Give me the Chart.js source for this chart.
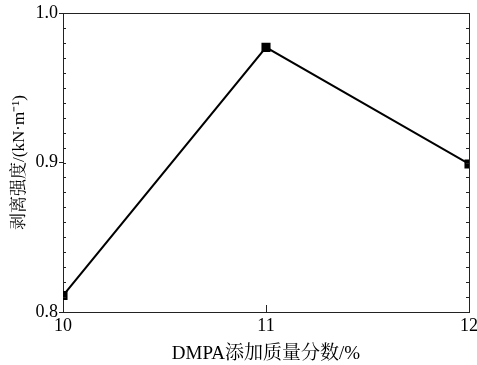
<!DOCTYPE html>
<html><head><meta charset="utf-8">
<script src="https://cdn.jsdelivr.net/npm/chart.js@4/dist/chart.umd.min.js"></script>
<style>html,body{margin:0;padding:0;background:#fff}#wrap{width:477px;height:365px}</style>
</head><body><div id="wrap"><canvas id="c"></canvas></div>
<script>
const categories = [10, 11, 12];
const peelStrength = [0.811, 0.977, 0.899];
const yTicks = [0.8, 0.9, 1.0];
const xTicks = [10, 11, 12];

const FONT = "'Liberation Serif','Noto Serif CJK SC','Noto Sans CJK SC',serif";

const innerTicks = {
  id: 'innerTicks',
  afterDraw(chart) {
    const {ctx, chartArea: a, scales: {x, y}} = chart;
    ctx.save();
    ctx.strokeStyle = '#222';
    ctx.lineWidth = 1;
    ctx.beginPath();
    for (let v = 80; v <= 100; v++) {
      const py = Math.round(y.getPixelForValue(v / 100)) + 0.5;
      ctx.moveTo(a.left, py); ctx.lineTo(a.left + 3, py);
      ctx.moveTo(a.right, py); ctx.lineTo(a.right - 3, py);
    }
    const px = Math.round(x.getPixelForValue(11)) + 0.5;
    ctx.moveTo(px, a.bottom); ctx.lineTo(px, a.bottom - 7);
    ctx.stroke();
    ctx.restore();
  }
};

new Chart(document.getElementById('c'), {
  type: 'line',
  data: {
    datasets: [{
      data: categories.map((c, i) => ({x: c, y: peelStrength[i]})),
      borderColor: '#000',
      borderWidth: 2,
      backgroundColor: '#000',
      pointStyle: 'rect',
      pointRadius: 5,
      pointHoverRadius: 5,
      tension: 0
    }]
  },
  options: {
    responsive: true,
    maintainAspectRatio: false,
    animation: false,
    layout: {padding: {top: 13, right: 8, left: 9, bottom: 0}},
    plugins: {legend: {display: false}, tooltip: {enabled: false}},
    scales: {
      x: {
        type: 'linear', min: 10, max: 12,
        afterBuildTicks: s => { s.ticks = xTicks.map(v => ({value: v})); },
        border: {display: true, color: '#222', width: 1},
        grid: {display: true, drawOnChartArea: false, drawTicks: false},
        ticks: {color: '#000', font: {family: FONT, size: 18}, padding: 3, maxRotation: 0,
                callback: v => String(v)},
        title: {display: true, text: 'DMPA添加质量分数/%', color: '#000',
                font: {family: FONT, size: 19}, padding: {top: 1, bottom: 0}},
        afterFit: s => { s.height = 53; s.paddingLeft = 0; s.paddingRight = 0; }
      },
      y: {
        type: 'linear', min: 0.8, max: 1.0,
        afterBuildTicks: s => { s.ticks = yTicks.map(v => ({value: v})); },
        border: {display: true, color: '#222', width: 1},
        grid: {display: true, drawOnChartArea: false, drawTicks: true, tickLength: 4, color: '#222'},
        ticks: {color: '#000', font: {family: FONT, size: 18}, padding: 1,
                callback: v => v.toFixed(1)},
        title: {display: true, text: '剥离强度/(kN·m⁻¹)', color: '#000',
                font: {family: FONT, size: 17}, padding: {top: 0, bottom: 4}},
        afterFit: s => { s.width = 54; s.paddingTop = 0; s.paddingBottom = 0; }
      },
      y2: {
        type: 'linear', position: 'right', min: 0.8, max: 1.0,
        border: {display: true, color: '#222', width: 1},
        grid: {display: false},
        ticks: {display: false},
        afterFit: s => { s.width = 0; }
      },
      x2: {
        type: 'linear', position: 'top', min: 10, max: 12,
        border: {display: true, color: '#222', width: 1},
        grid: {display: false},
        ticks: {display: false},
        afterFit: s => { s.height = 0; }
      }
    }
  },
  plugins: [innerTicks]
});
</script></body></html>
